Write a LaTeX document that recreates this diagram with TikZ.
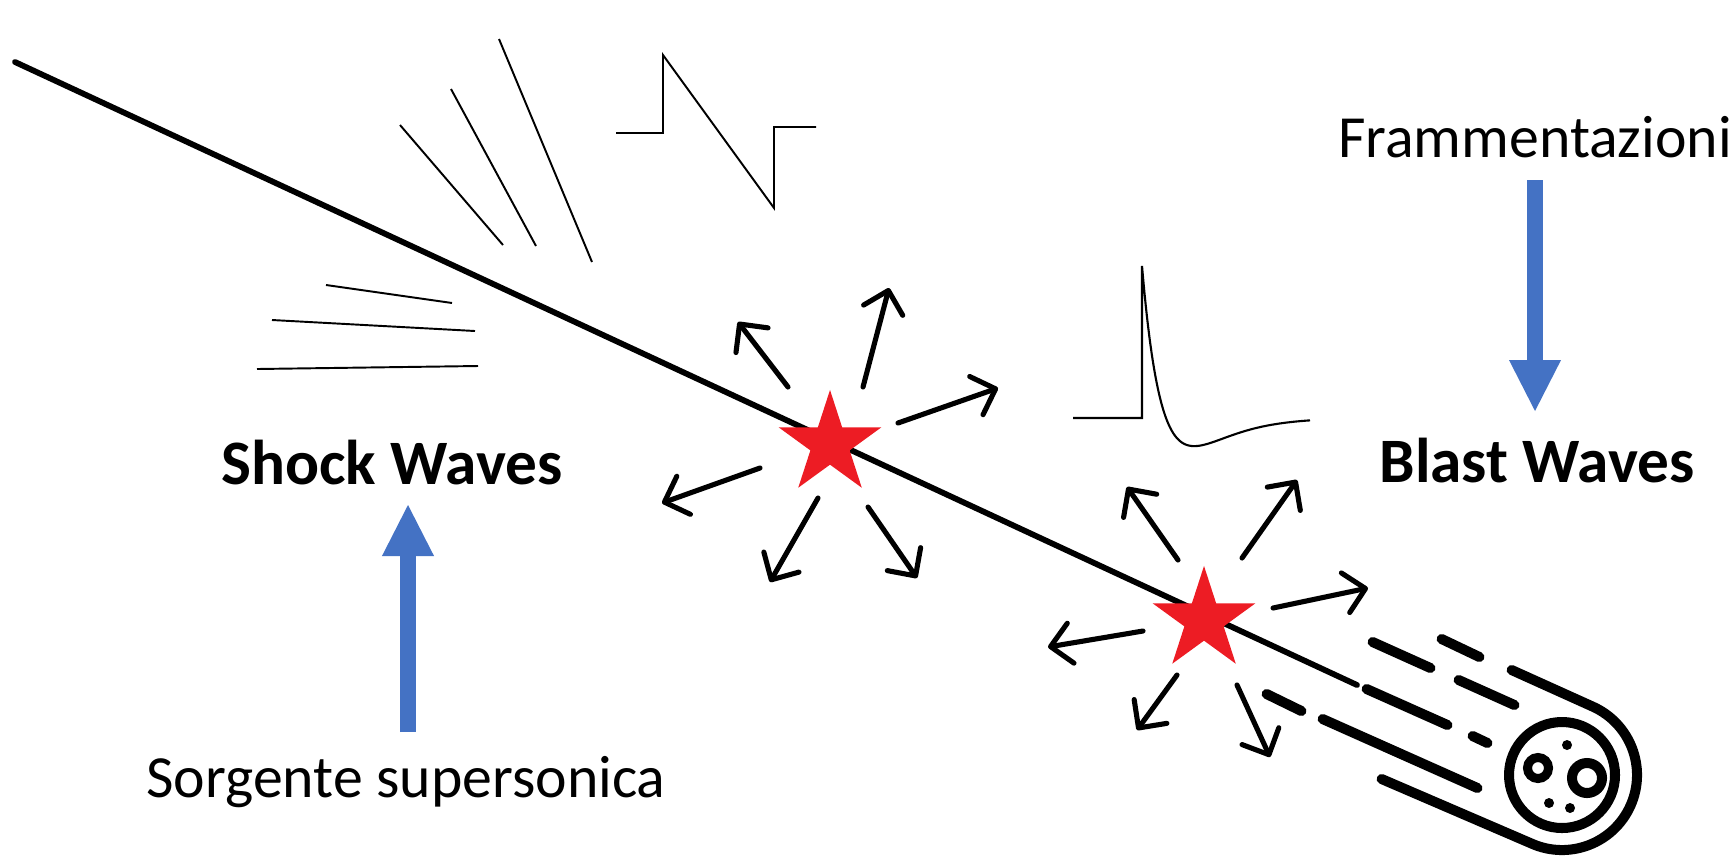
\documentclass[tikz,border=0pt]{standalone}
\usepackage{fontspec}
\setmainfont{Carlito}
\usetikzlibrary{arrows.meta,shapes.geometric,calc}
\definecolor{starred}{RGB}{237,28,36}
\definecolor{arrowblue}{RGB}{68,114,196}
\begin{document}
\begin{tikzpicture}[x=0.01cm,y=-0.01cm,
  trajectory/.style={line width=1.65pt,line cap=round},
  burst/.style={line width=1.45pt,line cap=round,-{Straight Barb[length=5.8pt,width=11.5pt,round]}},
  flash/.style={star,star points=5,star point ratio=2.618,fill=starred,draw=none,inner sep=0pt,minimum size=1.08cm},
  thinwave/.style={line width=0.55pt,line join=miter},
  meteor/.style={line width=2.85pt,line cap=round},
  bluearrow/.style={arrowblue,line width=4.55pt,-{Triangle[length=14.5pt,width=14.8pt,line width=0pt]}},
  lbl/.style={inner sep=0pt,anchor=base,font=\fontsize{17pt}{20pt}\selectfont},
  title/.style={inner sep=0pt,anchor=base,font=\fontsize{18pt}{22pt}\selectfont\bfseries}]

\fill[white] (0,0) rectangle (1734,860);
\useasboundingbox (0,0) rectangle (1734,860);

% trajectory of the body
\draw[trajectory] (15,62) -- (1357,685);

% shock front lines behind the body
\begin{scope}[thinwave]
  \draw (400,125) -- (503,245);
  \draw (451,89) -- (536,246);
  \draw (499,39) -- (592,262);
  \draw (326,285) -- (452,303);
  \draw (272,320) -- (475,331);
  \draw (257,369) -- (478,366);
  % N-wave profile
  \draw (616,133) -- (663,133) -- (663,55) -- (774,208) -- (774,127) -- (816,127);
\end{scope}

% Friedlander blast profile
\draw[line width=0.6pt] (1073,418) -- (1142,418) -- (1142,266)
  -- plot[domain=0:168,samples=140] ({1142+\x},{418-152*(1-\x/24)*exp(-0.85*\x/24)});

% fragmentation flashes
\node[flash] (s1) at (830,444) {};
\node[flash] (s2) at (1204,620) {};

\draw[burst] ($(s1)+(-42,-57)$) -- ($(s1)+(-92,-122)$);
\draw[burst] ($(s1)+(33,-57)$) -- ($(s1)+(59,-156)$);
\draw[burst] ($(s1)+(68,-21)$) -- ($(s1)+(168,-56)$);
\draw[burst] ($(s1)+(-70,24)$) -- ($(s1)+(-168,59)$);
\draw[burst] ($(s1)+(-12,54)$) -- ($(s1)+(-60,138)$);
\draw[burst] ($(s1)+(38,63)$) -- ($(s1)+(87,134)$);

\draw[burst] ($(s2)+(-26,-60)$) -- ($(s2)+(-77,-133)$);
\draw[burst] ($(s2)+(38,-62)$) -- ($(s2)+(93,-140)$);
\draw[burst] ($(s2)+(69,-12)$) -- ($(s2)+(164,-32)$);
\draw[burst] ($(s2)+(-61,11)$) -- ($(s2)+(-156,27)$);
\draw[burst] ($(s2)+(-27,55)$) -- ($(s2)+(-67,110)$);
\draw[burst] ($(s2)+(33,65)$) -- ($(s2)+(66,137)$);

% meteoroid icon
\begin{scope}[meteor]
  \draw (1511.6,670) -- (1592.5,706.5) arc[start angle=-66,end angle=114,radius=75] -- (1381.6,779);
  \draw (1372.6,642) -- (1430.4,668);
  \draw (1441.6,639) -- (1479.4,657);
  \draw (1458.6,680) -- (1514.4,705);
  \draw (1366.6,689) -- (1447.4,725);
  \draw (1472.6,736) -- (1487.4,743);
  \draw (1322.6,719) -- (1477.4,788);
  \draw (1266.6,694) -- (1301.4,711);
  \draw (1562,775) circle[radius=53];
  \draw[line width=2.56pt] (1538,768) circle[radius=10.5];
  \draw (1587,778) circle[radius=15];
  \fill (1567,745) circle[radius=5];
  \fill (1549,803) circle[radius=5];
  \fill (1570,808) circle[radius=5];
\end{scope}

% labels
\node[lbl] (frag) at (1535,157) {Frammentazioni};
\node[title] (blast) at (1537,482) {Blast Waves};
\node[title] (shock) at (392,484) {Shock Waves};
\node[lbl] (source) at (406,797) {Sorgente supersonica};

\coordinate (fragA) at (1535,180);
\coordinate (fragB) at (1535,411);
\coordinate (srcA) at (408,732);
\coordinate (srcB) at (408,505);
\draw[bluearrow] (fragA) -- (fragB);
\draw[bluearrow] (srcA) -- (srcB);

\end{tikzpicture}
\end{document}
